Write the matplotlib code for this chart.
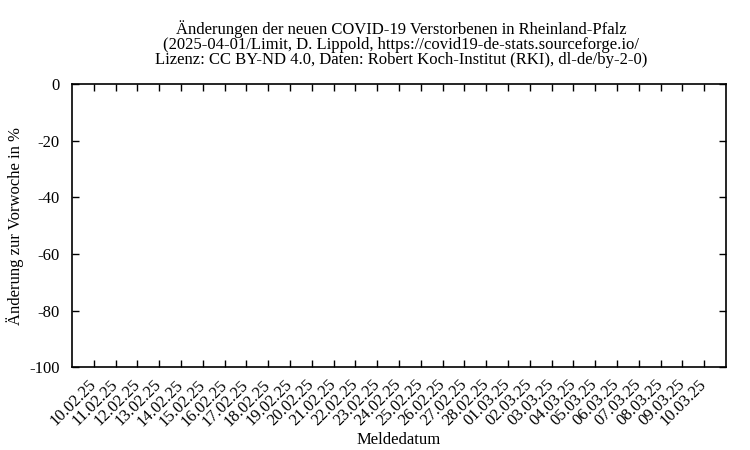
import matplotlib
matplotlib.use("Agg")
import matplotlib.pyplot as plt

plt.rcParams['font.family'] = ['Liberation Serif', 'DejaVu Serif']
plt.rcParams['font.size'] = 12
plt.rcParams['axes.unicode_minus'] = False

# Meldedaten (x-Achse)
dates = ["10.02.25", "11.02.25", "12.02.25", "13.02.25", "14.02.25", "15.02.25",
         "16.02.25", "17.02.25", "18.02.25", "19.02.25", "20.02.25", "21.02.25",
         "22.02.25", "23.02.25", "24.02.25", "25.02.25", "26.02.25", "27.02.25",
         "28.02.25", "01.03.25", "02.03.25", "03.03.25", "04.03.25", "05.03.25",
         "06.03.25", "07.03.25", "08.03.25", "09.03.25", "10.03.25"]
# keine Werte im Bild sichtbar
changes = [None] * len(dates)
y_ticks = [0, -20, -40, -60, -80, -100]

fig = plt.figure(figsize=(7.5, 4.5), dpi=100)
ax = fig.add_axes([0.096, 0.184, 0.872, 0.629])

x = list(range(len(dates)))
vals = [float('nan') if v is None else v for v in changes]
ax.plot(x, vals, color='#9400d3')

ax.set_xlim(-1, len(dates))
ax.set_ylim(-100, 0)
ax.set_xticks(x)
ax.set_xticklabels(dates, rotation=45, ha='right', va='center', rotation_mode='anchor')
ax.set_yticks(y_ticks)
ax.tick_params(direction='in', top=True, right=True, length=5, width=1)
ax.tick_params(axis='y', pad=9)
ax.tick_params(axis='x', pad=11)
for s in ax.spines.values():
    s.set_linewidth(1.2)

ax.set_xlabel("Meldedatum", va='center')
ax.xaxis.set_label_coords(0.5, -0.258)
ax.set_ylabel("Änderung zur Vorwoche in %", va='center')
ax.yaxis.set_label_coords(-0.087, 0.5)

tx = 0.535
fig.text(tx, 0.9244, "Änderungen der neuen COVID-19 Verstorbenen in Rheinland-Pfalz",
         ha='center', va='baseline')
fig.text(tx, 0.891, "(2025-04-01/Limit, D. Lippold, https://covid19-de-stats.sourceforge.io/",
         ha='center', va='baseline')
fig.text(tx, 0.858, "Lizenz: CC BY-ND 4.0, Daten: Robert Koch-Institut (RKI), dl-de/by-2-0)",
         ha='center', va='baseline')

fig.savefig("out.png", dpi=100)
